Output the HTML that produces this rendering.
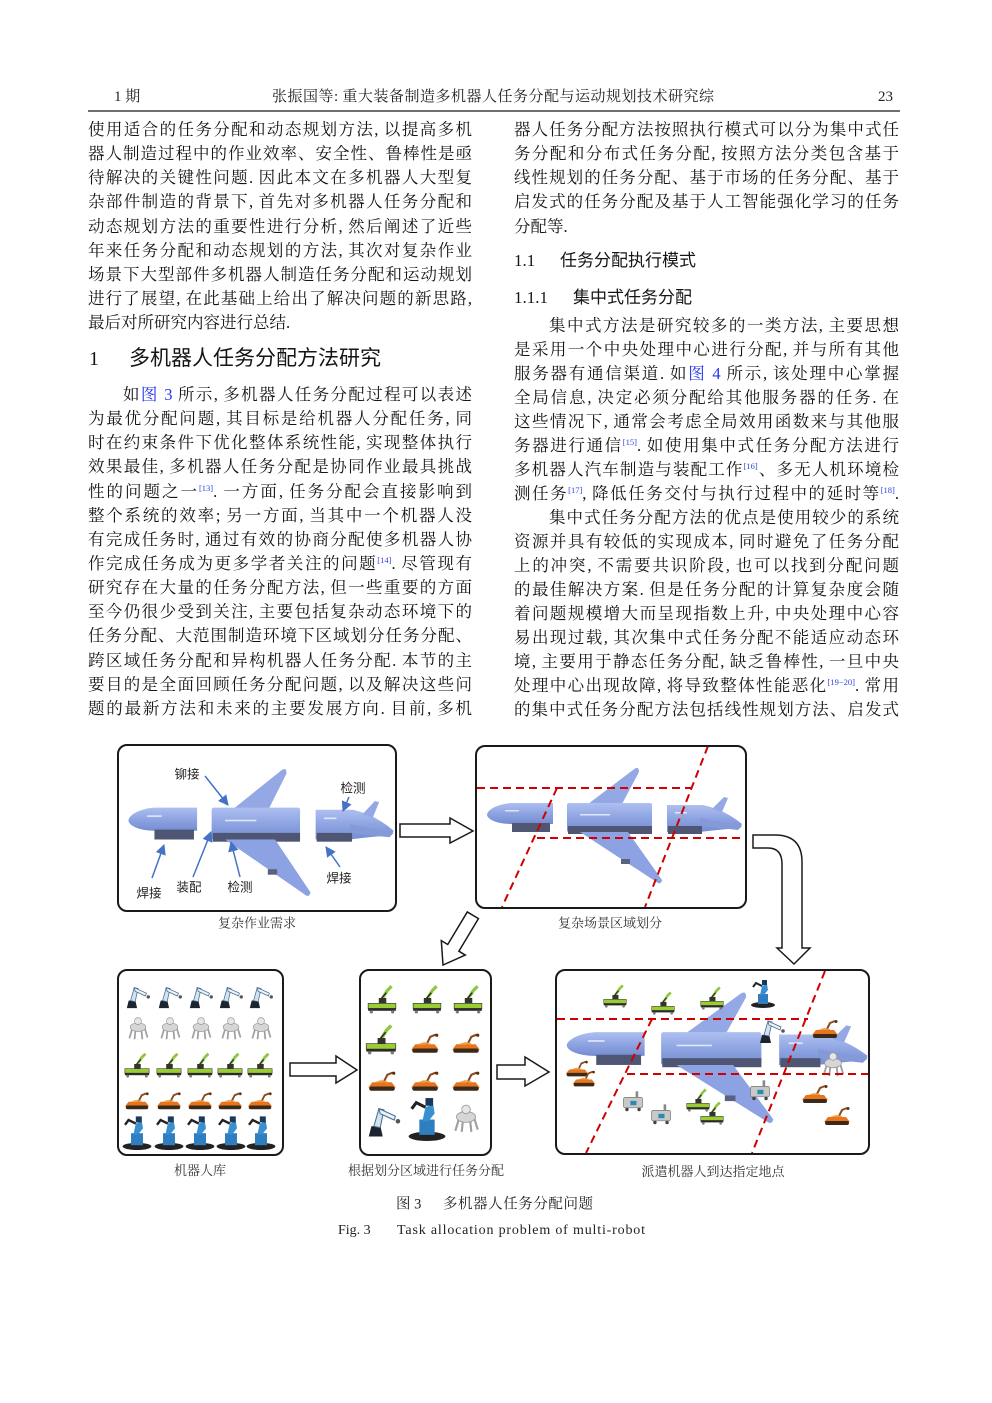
<!DOCTYPE html>
<html><head><meta charset="utf-8">
<style>
html,body{margin:0;padding:0;background:#fff;}
body{width:992px;height:1403px;position:relative;overflow:hidden;}
.abs{position:absolute;white-space:nowrap;}
.ser{font-family:"Liberation Serif","Noto Serif CJK SC",serif;}
.sans{font-family:"Liberation Sans","Noto Sans CJK SC",sans-serif;}
.col{position:absolute;font-family:"Liberation Serif","Noto Serif CJK SC",serif;font-size:16.5px;color:#151515;}
.col div{height:24.15px;line-height:24.15px;text-align:justify;text-align-last:justify;overflow:hidden;}
.col.r2 div{height:24px;line-height:24px;}
.col div.last{text-align-last:left;}
.col div.ind{padding-left:35px;}
sup{font-size:8.5px;line-height:0;vertical-align:6px;color:#3344dd;}
.lk{color:#2233ee;}
</style></head>
<body>
<!-- header -->
<div class="abs ser" style="left:114px;top:87px;font-size:15px;line-height:20px;color:#222;">1 期</div>
<div class="abs ser" style="left:272px;top:87px;width:442px;font-size:15px;line-height:20px;color:#222;text-align:justify;text-align-last:justify;white-space:normal;height:20px;overflow:hidden;">张振国等: 重大装备制造多机器人任务分配与运动规划技术研究综述</div>
<div class="abs ser" style="left:878px;top:87px;font-size:15px;line-height:20px;color:#222;">23</div>
<div style="position:absolute;left:88px;top:110px;width:812px;height:1.6px;background:#6e6e6e;"></div>

<!-- left column -->
<div class="col" style="left:88px;top:118px;width:384px;">
<div>使用适合的任务分配和动态规划方法, 以提高多机</div>
<div>器人制造过程中的作业效率、安全性、鲁棒性是亟</div>
<div>待解决的关键性问题. 因此本文在多机器人大型复</div>
<div>杂部件制造的背景下, 首先对多机器人任务分配和</div>
<div>动态规划方法的重要性进行分析, 然后阐述了近些</div>
<div>年来任务分配和动态规划的方法, 其次对复杂作业</div>
<div>场景下大型部件多机器人制造任务分配和运动规划</div>
<div>进行了展望, 在此基础上给出了解决问题的新思路,</div>
<div class="last">最后对所研究内容进行总结.</div>
</div>

<div class="abs ser" style="left:89px;top:344px;font-size:20px;line-height:30px;color:#151515;">1</div>
<div class="abs sans" style="left:129px;top:344px;font-size:21px;line-height:30px;color:#151515;">多机器人任务分配方法研究</div>

<div class="col" style="left:88px;top:383px;width:384px;">
<div class="ind">如<span class="lk">图 3</span> 所示, 多机器人任务分配过程可以表述</div>
<div>为最优分配问题, 其目标是给机器人分配任务, 同</div>
<div>时在约束条件下优化整体系统性能, 实现整体执行</div>
<div>效果最佳, 多机器人任务分配是协同作业最具挑战</div>
<div>性的问题之一<sup>[13]</sup>. 一方面, 任务分配会直接影响到</div>
<div>整个系统的效率; 另一方面, 当其中一个机器人没</div>
<div>有完成任务时, 通过有效的协商分配使多机器人协</div>
<div>作完成任务成为更多学者关注的问题<sup>[14]</sup>. 尽管现有</div>
<div>研究存在大量的任务分配方法, 但一些重要的方面</div>
<div>至今仍很少受到关注, 主要包括复杂动态环境下的</div>
<div>任务分配、大范围制造环境下区域划分任务分配、</div>
<div>跨区域任务分配和异构机器人任务分配. 本节的主</div>
<div>要目的是全面回顾任务分配问题, 以及解决这些问</div>
<div>题的最新方法和未来的主要发展方向. 目前, 多机</div>
</div>

<!-- right column -->
<div class="col" style="left:514px;top:118px;width:385px;">
<div>器人任务分配方法按照执行模式可以分为集中式任</div>
<div>务分配和分布式任务分配, 按照方法分类包含基于</div>
<div>线性规划的任务分配、基于市场的任务分配、基于</div>
<div>启发式的任务分配及基于人工智能强化学习的任务</div>
<div class="last">分配等.</div>
</div>

<div class="abs ser" style="left:514px;top:249px;font-size:17px;line-height:24px;color:#151515;">1.1</div>
<div class="abs sans" style="left:560px;top:249px;font-size:17px;line-height:24px;color:#151515;">任务分配执行模式</div>
<div class="abs ser" style="left:514px;top:286px;font-size:17px;line-height:24px;color:#151515;">1.1.1</div>
<div class="abs sans" style="left:573px;top:286px;font-size:17px;line-height:24px;color:#151515;">集中式任务分配</div>

<div class="col r2" style="left:514px;top:314px;width:385px;">
<div class="ind">集中式方法是研究较多的一类方法, 主要思想</div>
<div>是采用一个中央处理中心进行分配, 并与所有其他</div>
<div>服务器有通信渠道. 如<span class="lk">图 4</span> 所示, 该处理中心掌握</div>
<div>全局信息, 决定必须分配给其他服务器的任务. 在</div>
<div>这些情况下, 通常会考虑全局效用函数来与其他服</div>
<div>务器进行通信<sup>[15]</sup>. 如使用集中式任务分配方法进行</div>
<div>多机器人汽车制造与装配工作<sup>[16]</sup>、多无人机环境检</div>
<div>测任务<sup>[17]</sup>, 降低任务交付与执行过程中的延时等<sup>[18]</sup>.</div>
<div class="ind">集中式任务分配方法的优点是使用较少的系统</div>
<div>资源并具有较低的实现成本, 同时避免了任务分配</div>
<div>上的冲突, 不需要共识阶段, 也可以找到分配问题</div>
<div>的最佳解决方案. 但是任务分配的计算复杂度会随</div>
<div>着问题规模增大而呈现指数上升, 中央处理中心容</div>
<div>易出现过载, 其次集中式任务分配不能适应动态环</div>
<div>境, 主要用于静态任务分配, 缺乏鲁棒性, 一旦中央</div>
<div>处理中心出现故障, 将导致整体性能恶化<sup>[19−20]</sup>. 常用</div>
<div>的集中式任务分配方法包括线性规划方法、启发式</div>
</div>

<!-- figure -->
<svg width="992" height="1403" viewBox="0 0 992 1403" style="position:absolute;left:0;top:0;" xmlns="http://www.w3.org/2000/svg">
<defs>
<linearGradient id="pg" x1="0" y1="0" x2="0" y2="1">
<stop offset="0" stop-color="#aebff0"/><stop offset="0.5" stop-color="#8ea4e2"/><stop offset="1" stop-color="#748cd0"/>
</linearGradient>
<marker id="ah" viewBox="0 0 10 10" refX="9" refY="5" markerWidth="7" markerHeight="7" orient="auto">
<path d="M0,0 L10,5 L0,10 Z" fill="#4472c4"/>
</marker>
<g id="plane">
<path d="M588,804 L633,770 Q639,765 639,772 L622,804 Z" fill="#93a8e4"/>
<path d="M553,803 L512,803 C497,804 487,810 487,815 C488,820 498,824 512,824 L553,824 Z" fill="url(#pg)"/>
<rect x="512" y="823" width="38" height="9" fill="#4e5673"/>
<rect x="567" y="803" width="85" height="29" rx="2" fill="url(#pg)"/>
<rect x="568" y="826" width="84" height="8" fill="#4e5673"/>
<path d="M580,832 L628,832 L662,880 Q661,886 655,881 Z" fill="#8ca2e2"/>
<rect x="621" y="859" width="9" height="5" fill="#5a6080"/>
<path d="M667,805 L703,805 Q725,810 742,824 L740,828 Q715,830 700,832 L667,832 Z" fill="url(#pg)"/>
<path d="M712,809 L724,797 L728,798 L722,812 Z" fill="#93a8e4"/>
<path d="M700,818 L742,826 L738,830 L700,826 Z" fill="#849ad8"/>
<rect x="668" y="826" width="34" height="8" fill="#4e5673"/>
<g fill="#f0f4ff" opacity="0.8">
<rect x="505" y="810" width="14" height="1.5"/><rect x="580" y="814" width="30" height="1.5"/><rect x="675" y="812" width="12" height="1.5"/>
</g>
</g>
<symbol id="armW" viewBox="0 0 30 30">
<path d="M3,28 L5,20 L12,19 L14,28 Z" fill="#1c2430"/>
<path d="M7,20 L11,6 L15,7 L12,21 Z" fill="#cfe3f2" stroke="#4a6a88" stroke-width="0.8"/>
<path d="M11,6 L24,12 L23,15 L12,10 Z" fill="#e8f2fa" stroke="#4a6a88" stroke-width="0.8"/>
<circle cx="26" cy="16" r="1.8" fill="#555"/>
</symbol>
<symbol id="quad" viewBox="0 0 30 30">
<g stroke="#a0a0a0" stroke-width="2" fill="none"><path d="M8,17 L5,27"/><path d="M12,18 L11,28"/><path d="M19,18 L20,28"/><path d="M23,16 L26,26"/></g>
<ellipse cx="15" cy="14" rx="9" ry="5" fill="#d6d6d6" stroke="#999" stroke-width="0.8"/>
<circle cx="15" cy="7" r="4" fill="#e6e6e6" stroke="#999" stroke-width="0.8"/>
</symbol>
<symbol id="agvG" viewBox="0 0 30 30">
<path d="M15,16 L20,8 L24,4" stroke="#8dc63f" stroke-width="3" fill="none"/>
<path d="M14,16 L19,10" stroke="#222" stroke-width="1.2"/>
<rect x="12" y="15" width="7" height="5" fill="#333"/>
<rect x="2" y="20" width="26" height="5" fill="#9acd32" stroke="#333" stroke-width="0.6"/>
<rect x="2" y="24.5" width="26" height="2.5" fill="#2a2a2a"/>
<circle cx="5" cy="28" r="1.5" fill="#777"/><circle cx="25" cy="28" r="1.5" fill="#777"/>
</symbol>
<symbol id="orng" viewBox="0 0 30 30">
<path d="M16,20 L20,12 L25,10" stroke="#8a4a20" stroke-width="2" fill="none"/>
<circle cx="26" cy="10.5" r="1.5" fill="#5a3010"/>
<path d="M2,24 L6,19 L24,19 L28,24 Z" fill="#e8741e"/>
<path d="M8,19 L14,17 L20,18 L20,19 Z" fill="#f0a040"/>
<rect x="3" y="23" width="24" height="4" rx="2" fill="#3a2a1a"/>
</symbol>
<symbol id="blueR" viewBox="0 0 30 30">
<ellipse cx="15" cy="27" rx="12" ry="3" fill="#222"/>
<rect x="10" y="16" width="10" height="10" fill="#2f7fc0"/>
<path d="M12,17 L14,8 L19,6 L20,12 L16,17Z" fill="#3a8fd0"/>
<path d="M14,8 L8,5 L5,9" stroke="#222" stroke-width="2" fill="none"/>
<rect x="14" y="2" width="5" height="5" fill="#1a3a5a"/>
</symbol>
<symbol id="grayB" viewBox="0 0 30 30">
<rect x="18" y="5" width="3" height="7" fill="#888"/>
<rect x="4" y="12" width="22" height="12" rx="2" fill="#c8c8c8" stroke="#777" stroke-width="0.8"/>
<rect x="12" y="16" width="7" height="5" fill="#2a8ab0"/>
<circle cx="8" cy="26" r="2" fill="#444"/><circle cx="22" cy="26" r="2" fill="#444"/>
</symbol>
</defs>

<!-- Box A -->
<rect x="118" y="745" width="278" height="166" rx="9" fill="#fff"/>
<use href="#plane" transform="translate(260,823) scale(1.04,1.1) translate(-613.5,-817)"/>
<rect x="118" y="745" width="278" height="166" rx="9" fill="none" stroke="#1a1a1a" stroke-width="2"/>
<g stroke="#4472c4" stroke-width="1.5" fill="none" marker-end="url(#ah)">
<path d="M205,776 L228,805"/>
<path d="M349,797 L343,811"/>
<path d="M152,878 L164,845"/>
<path d="M193,877 L211,832"/>
<path d="M240,877 L231,842"/>
<path d="M340,867 L326,847"/>
</g>
<g font-family="Liberation Sans, Noto Sans CJK SC, sans-serif" font-size="12.5" fill="#222" text-anchor="middle">
<text x="187" y="778.5">铆接</text>
<text x="353" y="792.5">检测</text>
<text x="149" y="897.5">焊接</text>
<text x="189" y="891.5">装配</text>
<text x="240" y="891.5">检测</text>
<text x="339" y="882.5">焊接</text>
</g>

<!-- Arrow A->B -->
<path d="M400,824 L450,824 L450,818 L473,831 L450,843 L450,837 L400,837 Z" fill="#fff" stroke="#1a1a1a" stroke-width="1.5"/>

<!-- Box B -->
<rect x="476" y="746" width="270" height="162" rx="9" fill="#fff"/>
<use href="#plane"/>
<g stroke="#d00000" stroke-width="2" stroke-dasharray="8,5" fill="none">
<path d="M477,788 L692,788"/>
<path d="M537,838 L744,838"/>
<path d="M557,788 L502,907"/>
<path d="M708,746 L645,907"/>
</g>
<rect x="476" y="746" width="270" height="162" rx="9" fill="none" stroke="#1a1a1a" stroke-width="2"/>

<!-- curved arrow B->E -->
<path d="M753,835 L775,835 Q802,835 802,862 L802,948 L810,948 L794,964 L777,948 L782,948 L782,864 Q782,848 768,848 L753,848 Z" fill="#fff" stroke="#1a1a1a" stroke-width="1.5"/>

<!-- diagonal arrow B->D -->
<path d="M-58,-6.5 L-20,-6.5 L-20,-14 L0,0 L-20,14 L-20,6.5 L-58,6.5 Z" transform="translate(443,965) rotate(121)" fill="#fff" stroke="#1a1a1a" stroke-width="1.5"/>

<!-- Box C -->
<rect x="118" y="970" width="165" height="185" rx="9" fill="#fff" stroke="#1a1a1a" stroke-width="2"/>
<g>
<use href="#armW" x="124" y="982" width="28" height="28"/><use href="#armW" x="156" y="982" width="28" height="28"/><use href="#armW" x="187" y="982" width="28" height="28"/><use href="#armW" x="217" y="982" width="28" height="28"/><use href="#armW" x="247" y="982" width="28" height="28"/>
<use href="#quad" x="125" y="1015" width="26" height="26"/><use href="#quad" x="157" y="1015" width="26" height="26"/><use href="#quad" x="188" y="1015" width="26" height="26"/><use href="#quad" x="218" y="1015" width="26" height="26"/><use href="#quad" x="248" y="1015" width="26" height="26"/>
<use href="#agvG" x="123" y="1050" width="28" height="28"/><use href="#agvG" x="155" y="1050" width="28" height="28"/><use href="#agvG" x="186" y="1050" width="28" height="28"/><use href="#agvG" x="216" y="1050" width="28" height="28"/><use href="#agvG" x="246" y="1050" width="28" height="28"/>
<use href="#orng" x="123" y="1084" width="28" height="28"/><use href="#orng" x="155" y="1084" width="28" height="28"/><use href="#orng" x="186" y="1084" width="28" height="28"/><use href="#orng" x="216" y="1084" width="28" height="28"/><use href="#orng" x="246" y="1084" width="28" height="28"/>
<use href="#blueR" x="119" y="1114" width="36" height="36"/><use href="#blueR" x="151" y="1114" width="36" height="36"/><use href="#blueR" x="182" y="1114" width="36" height="36"/><use href="#blueR" x="213" y="1114" width="36" height="36"/><use href="#blueR" x="243" y="1114" width="36" height="36"/>
</g>

<!-- Arrow C->D -->
<path d="M290,1063 L336,1063 L336,1056 L357,1070 L336,1083 L336,1076 L290,1076 Z" fill="#fff" stroke="#1a1a1a" stroke-width="1.5"/>

<!-- Box D -->
<rect x="360" y="970" width="131" height="185" rx="9" fill="#fff" stroke="#1a1a1a" stroke-width="2"/>
<g>
<use href="#agvG" x="366" y="982" width="32" height="32"/><use href="#agvG" x="411" y="982" width="32" height="32"/><use href="#agvG" x="452" y="982" width="32" height="32"/>
<use href="#agvG" x="364" y="1021" width="34" height="34"/><use href="#orng" x="409" y="1024" width="32" height="32"/><use href="#orng" x="450" y="1024" width="32" height="32"/>
<use href="#orng" x="366" y="1062" width="32" height="32"/><use href="#orng" x="409" y="1062" width="32" height="32"/><use href="#orng" x="450" y="1062" width="32" height="32"/>
<use href="#armW" x="365" y="1101" width="38" height="38"/><use href="#blueR" x="404" y="1095" width="46" height="46"/><use href="#quad" x="450" y="1102" width="32" height="32"/>
</g>

<!-- Arrow D->E -->
<path d="M497,1065 L525,1065 L525,1057 L549,1072 L525,1086 L525,1079 L497,1079 Z" fill="#fff" stroke="#1a1a1a" stroke-width="1.5"/>

<!-- Box E -->
<rect x="556" y="970" width="313" height="184" rx="9" fill="#fff"/>
<use href="#plane" transform="translate(716,1048) scale(1.18,1.13) translate(-613.5,-817)"/>
<g>
<use href="#agvG" x="602" y="982" width="26" height="26"/><use href="#agvG" x="650" y="989" width="26" height="26"/><use href="#agvG" x="699" y="984" width="26" height="26"/>
<use href="#blueR" x="748" y="978" width="30" height="30"/>
<use href="#armW" x="757" y="1015" width="30" height="30"/>
<use href="#orng" x="810" y="1011" width="30" height="30"/>
<use href="#orng" x="564" y="1053" width="26" height="26"/><use href="#orng" x="571" y="1063" width="26" height="26"/>
<use href="#quad" x="819" y="1050" width="28" height="28"/>
<use href="#grayB" x="620" y="1087" width="26" height="26"/><use href="#grayB" x="648" y="1100" width="26" height="26"/><use href="#grayB" x="747" y="1076" width="26" height="26"/>
<use href="#agvG" x="685" y="1086" width="26" height="26"/><use href="#agvG" x="699" y="1099" width="26" height="26"/>
<use href="#orng" x="800" y="1076" width="30" height="30"/><use href="#orng" x="822" y="1098" width="30" height="30"/>
</g>
<g stroke="#d00000" stroke-width="2" stroke-dasharray="8,5" fill="none">
<path d="M557,1019 L808,1019"/>
<path d="M627,1074 L868,1074"/>
<path d="M652,1019 L586,1153"/>
<path d="M825,971 L752,1153"/>
</g>
<rect x="556" y="970" width="313" height="184" rx="9" fill="none" stroke="#1a1a1a" stroke-width="2"/>

<!-- sub captions -->
<g font-family="Liberation Serif, Noto Serif CJK SC, serif" font-size="13" fill="#333" text-anchor="middle">
<text x="257" y="927.5">复杂作业需求</text>
<text x="610" y="927.5">复杂场景区域划分</text>
<text x="200" y="1175">机器人库</text>
<text x="426" y="1175">根据划分区域进行任务分配</text>
<text x="713" y="1176">派遣机器人到达指定地点</text>
</g>

<!-- figure caption -->
<g font-family="Liberation Serif, Noto Serif CJK SC, serif" fill="#222">
<text x="396" y="1208.5" font-size="14.5">图 3</text>
<text x="443" y="1208.5" font-size="14.5" textLength="150" lengthAdjust="spacing">多机器人任务分配问题</text>
<text x="338" y="1234" font-size="14">Fig. 3</text>
<text x="397" y="1234" font-size="14" textLength="248" lengthAdjust="spacing">Task allocation problem of multi-robot</text>
</g>
</svg>
</body></html>
